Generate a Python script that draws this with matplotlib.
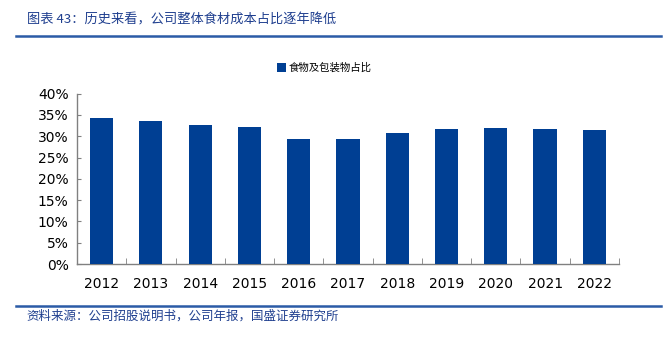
import matplotlib
matplotlib.use("Agg")
import matplotlib.pyplot as plt
from matplotlib.ticker import FuncFormatter, MultipleLocator
import numpy as np

plt.rcParams['font.family'] = ['DejaVu Sans', 'Noto Sans CJK SC']

years = ['2012', '2013', '2014', '2015', '2016', '2017', '2018', '2019', '2020', '2021', '2022']
share = [34.3, 33.5, 32.7, 32.1, 29.3, 29.4, 30.8, 31.6, 32.0, 31.6, 31.4]
series_name = '食物及包装物占比'
title = '图表 43：历史来看，公司整体食材成本占比逐年降低'
source = '资料来源：公司招股说明书，公司年报，国盛证券研究所'

bar_color = '#003F93'
text_blue = '#1F3F8F'
line_blue = '#2B5BA6'

fig = plt.figure(figsize=(6.67, 3.39), dpi=100)
ax = fig.add_axes([0.1154, 0.2212, 0.8126, 0.5024])

x = np.arange(len(years))
ax.bar(x, share, width=0.47, color=bar_color, label=series_name, zorder=3)

ax.set_xlim(-0.5, len(years) - 0.5)
ax.set_ylim(0, 40)
ax.yaxis.set_major_locator(MultipleLocator(5))
ax.yaxis.set_major_formatter(FuncFormatter(lambda v, p: f'{v:.0f}%'))
ax.set_xticks(x)
ax.set_xticklabels(years)
ax.set_xticks(np.arange(-0.5, len(years), 1.0), minor=True)

for s in ['top', 'right']:
    ax.spines[s].set_visible(False)
for s in ['left', 'bottom']:
    ax.spines[s].set_color('#808080')
    ax.spines[s].set_linewidth(1.0)

ax.tick_params(axis='y', direction='in', length=3, color='#808080', labelsize=10, pad=6, labelcolor='#000000')
ax.tick_params(axis='x', which='major', length=0, labelsize=10, pad=9, labelcolor='#000000')
ax.tick_params(axis='x', which='minor', direction='in', length=4, color='#808080')

leg = fig.legend(loc='center', bbox_to_anchor=(0.486, 0.8), frameon=False,
                 handlelength=0.9, handleheight=0.9, handletextpad=0.2,
                 prop={'family': ['Noto Sans CJK SC'], 'size': 7.5})

fig.text(0.040, 0.941, title, color=text_blue, fontsize=9.5, style='italic',
         family=['Noto Sans CJK SC', 'DejaVu Sans'], va='center', ha='left')
fig.add_artist(plt.Line2D([0.024, 0.991], [0.894, 0.894], transform=fig.transFigure,
                          color=line_blue, linewidth=1.8))
fig.add_artist(plt.Line2D([0.024, 0.991], [0.098, 0.098], transform=fig.transFigure,
                          color=line_blue, linewidth=1.8))
fig.text(0.040, 0.068, source, color=text_blue, fontsize=9, style='italic',
         family=['Noto Sans CJK SC', 'DejaVu Sans'], va='center', ha='left')

fig.savefig('out.png', dpi=100)
